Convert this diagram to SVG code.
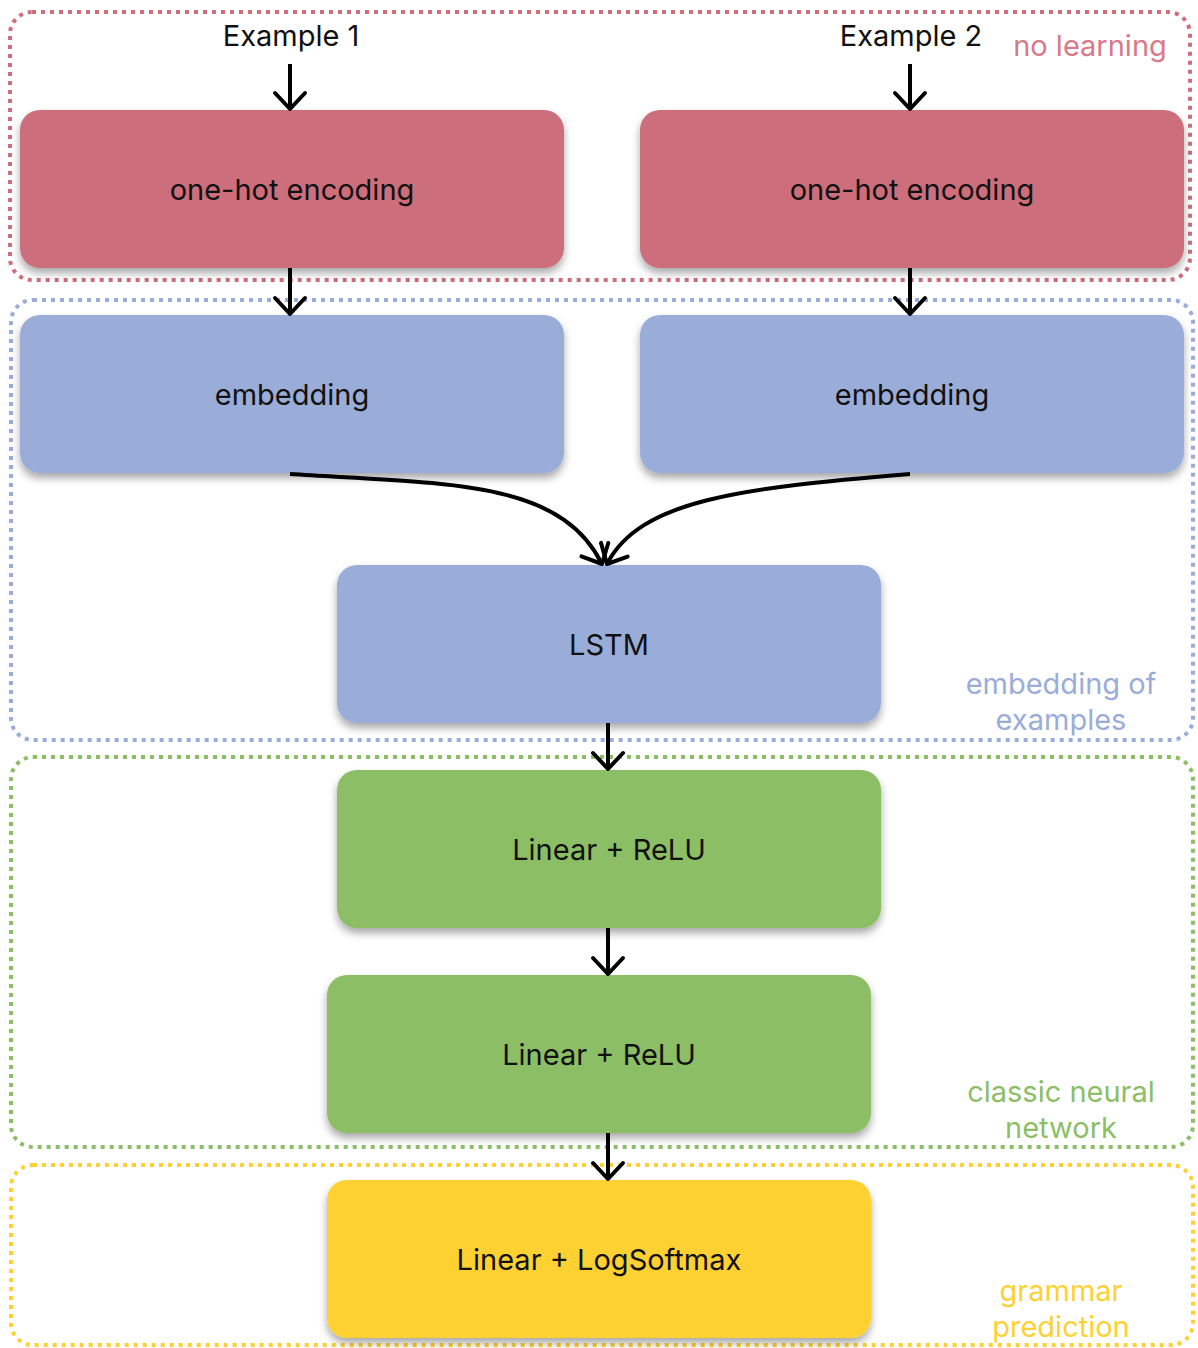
<svg xmlns="http://www.w3.org/2000/svg" width="1198" height="1348" viewBox="0 0 1198 1348">
  <style>
    .lbl { font-family: Inter, "Noto Sans", "Liberation Sans", sans-serif; font-size: 29px; fill: #111; text-anchor: middle; }
    .grp { font-family: Inter, "Noto Sans", "Liberation Sans", sans-serif; font-size: 29px; text-anchor: middle; }
    .frame { fill: none; stroke-width: 4; stroke-dasharray: 4 5; }
    .edge { fill: none; stroke: #000; stroke-width: 4; }
    .red { fill: #CC6E7B; }
    .blue { fill: #9AADD9; }
    .green { fill: #8CBE65; }
    .yellow { fill: #FDD133; }
  </style>
  <defs>
    <filter id="shadow" x="-5%" y="-10%" width="110%" height="130%">
      <feGaussianBlur in="SourceAlpha" stdDeviation="4"/>
      <feOffset dx="0" dy="5" result="b"/>
      <feComponentTransfer><feFuncA type="linear" slope="0.35"/></feComponentTransfer>
      <feMerge><feMergeNode/><feMergeNode in="SourceGraphic"/></feMerge>
    </filter>
    <!-- open V arrowhead -->
    <marker id="arrow" viewBox="0 0 22 36" refX="19" refY="18" markerWidth="22" markerHeight="36" markerUnits="userSpaceOnUse" orient="auto">
      <path d="M 3 3 L 19 18 L 3 33" fill="none" stroke="#000" stroke-width="4" stroke-linecap="round" stroke-linejoin="round"/>
    </marker>
  </defs>
  <rect width="1198" height="1348" fill="#fff"/>

  <!-- group frames -->
  <g id="frames">
    <rect class="frame" x="10" y="12" width="1180" height="268" rx="22" stroke="#CC6E7B"/>
    <rect class="frame" x="11" y="300" width="1182" height="440" rx="22" stroke="#9AADD9"/>
    <rect class="frame" x="11" y="757" width="1182" height="390" rx="22" stroke="#8CBE65"/>
    <rect class="frame" x="11" y="1165" width="1182" height="180" rx="22" stroke="#FDD133"/>
  </g>

  <!-- group captions -->
  <g id="captions">
    <text class="grp" x="1090" y="56" fill="#D77A8A">no learning</text>
    <text class="grp" x="1061" y="694" fill="#9AADD9">embedding of</text>
    <text class="grp" x="1061" y="730" fill="#9AADD9">examples</text>
    <text class="grp" x="1061" y="1102" fill="#8CBE65">classic neural</text>
    <text class="grp" x="1061" y="1138" fill="#8CBE65">network</text>
    <text class="grp" x="1061" y="1301" fill="#FDD133">grammar</text>
    <text class="grp" x="1061" y="1337" fill="#FDD133">prediction</text>
  </g>

  <!-- inputs -->
  <g id="input1"><text class="lbl" x="291" y="46">Example 1</text></g>
  <g id="input2"><text class="lbl" x="911" y="46">Example 2</text></g>

  <g id="onehot1">
    <rect class="red" x="20" y="110" width="544" height="158" rx="20" filter="url(#shadow)"/>
    <text class="lbl" x="292" y="200">one-hot encoding</text>
  </g>
  <g id="onehot2">
    <rect class="red" x="640" y="110" width="544" height="158" rx="20" filter="url(#shadow)"/>
    <text class="lbl" x="912" y="200">one-hot encoding</text>
  </g>
  <g id="embedding1">
    <rect class="blue" x="20" y="315" width="544" height="158" rx="20" filter="url(#shadow)"/>
    <text class="lbl" x="292" y="405">embedding</text>
  </g>
  <g id="embedding2">
    <rect class="blue" x="640" y="315" width="544" height="158" rx="20" filter="url(#shadow)"/>
    <text class="lbl" x="912" y="405">embedding</text>
  </g>
  <g id="lstm">
    <rect class="blue" x="337" y="565" width="544" height="158" rx="20" filter="url(#shadow)"/>
    <text class="lbl" x="609" y="655">LSTM</text>
  </g>
  <g id="linear1">
    <rect class="green" x="337" y="770" width="544" height="158" rx="20" filter="url(#shadow)"/>
    <text class="lbl" x="609" y="860">Linear + ReLU</text>
  </g>
  <g id="linear2">
    <rect class="green" x="327" y="975" width="544" height="158" rx="20" filter="url(#shadow)"/>
    <text class="lbl" x="599" y="1065">Linear + ReLU</text>
  </g>
  <g id="output">
    <rect class="yellow" x="327" y="1180" width="544" height="158" rx="20" filter="url(#shadow)"/>
    <text class="lbl" x="599" y="1270">Linear + LogSoftmax</text>
  </g>

  <!-- connectors -->
  <g id="connectors">
    <path class="edge" d="M 290 64 L 290 109" marker-end="url(#arrow)"/>
    <path class="edge" d="M 910 64 L 910 109" marker-end="url(#arrow)"/>
    <path class="edge" d="M 290 268 L 290 314" marker-end="url(#arrow)"/>
    <path class="edge" d="M 910 268 L 910 314" marker-end="url(#arrow)"/>
    <path class="edge" d="M 290 474 C 450 484, 560 480, 602 564" marker-end="url(#arrow)"/>
    <path class="edge" d="M 910 474 C 740 488, 640 500, 607 564" marker-end="url(#arrow)"/>
    <path class="edge" d="M 608 723 L 608 769" marker-end="url(#arrow)"/>
    <path class="edge" d="M 608 928 L 608 974" marker-end="url(#arrow)"/>
    <path class="edge" d="M 608 1133 L 608 1179" marker-end="url(#arrow)"/>
  </g>
</svg>
